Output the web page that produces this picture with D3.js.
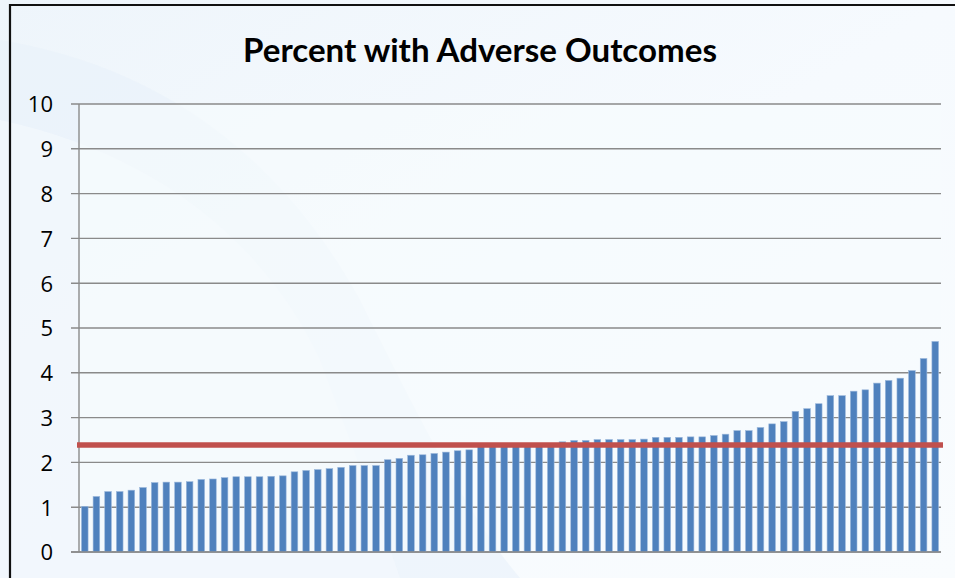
<!DOCTYPE html>
<html>
<head>
<meta charset="utf-8">
<script src="https://cdn.jsdelivr.net/npm/d3@7"></script>
<style>
  html, body { margin: 0; padding: 0; background: #f5f9fd; }
  svg { display: block; }
</style>
</head>
<body>
<svg id="chart" width="955" height="578"></svg>
<script>
// ---- data ----
const title = "Percent with Adverse Outcomes";
const values = [
  1.02,1.24,1.35,1.35,1.38,1.44,1.55,1.56,1.56,1.57,
  1.62,1.63,1.66,1.68,1.68,1.68,1.69,1.70,1.79,1.82,
  1.84,1.86,1.89,1.93,1.93,1.93,2.06,2.09,2.16,2.17,
  2.20,2.23,2.26,2.28,2.36,2.38,2.39,2.40,2.40,2.41,
  2.42,2.46,2.49,2.49,2.51,2.51,2.51,2.51,2.52,2.56,
  2.56,2.56,2.57,2.57,2.60,2.63,2.71,2.71,2.78,2.86,
  2.91,3.14,3.20,3.31,3.49,3.49,3.59,3.62,3.77,3.83,
  3.88,4.05,4.32,4.70
];
const categories = values.map((d, i) => i + 1);
const benchmark = [2.39];
const yTicks = [0,1,2,3,4,5,6,7,8,9,10];
const yDomain = [0, 10];

// ---- layout ----
const W = 955, H = 578;
const plot = { left: 79, right: 941, top: 104, bottom: 552 };
const svg = d3.select("#chart");

// background
const defs = svg.append("defs");
const bg = defs.append("linearGradient").attr("id","bg").attr("x1","0").attr("y1","0").attr("x2","1").attr("y2","1");
bg.append("stop").attr("offset","0").attr("stop-color","#eef5fb");
bg.append("stop").attr("offset","0.5").attr("stop-color","#f6fafe");
bg.append("stop").attr("offset","1").attr("stop-color","#f9fcfe");
svg.append("rect").attr("width", W).attr("height", H).attr("fill", "url(#bg)");
// subtle swooshes
svg.append("path")
  .attr("d", "M0,40 C120,60 260,120 360,300 C420,420 470,520 520,578 L0,578 Z")
  .attr("fill", "#e8f1f9").attr("opacity", 0.55);
svg.append("path")
  .attr("d", "M0,120 C140,150 260,230 320,360 C350,440 380,520 400,578 L0,578 Z")
  .attr("fill", "#f2f7fc").attr("opacity", 0.8);
svg.append("rect").attr("x", plot.left).attr("y", plot.top)
  .attr("width", plot.right - plot.left).attr("height", plot.bottom - plot.top)
  .attr("fill", "#f7fbfe").attr("opacity", 0.6);

// frame border
svg.append("path")
  .attr("d", `M10,${H + 5} L10,5 L${W + 5},5`)
  .attr("fill", "none").attr("stroke", "#111").attr("stroke-width", 2.2);

// ---- scales ----
const x = d3.scaleBand().domain(categories).range([plot.left, plot.right]).paddingInner(0.43).paddingOuter(0.21);
const y = d3.scaleLinear().domain(yDomain).range([plot.bottom, plot.top]);

// gridlines
svg.append("g").selectAll("line").data(yTicks).join("line")
  .attr("x1", plot.left - 8).attr("x2", plot.right)
  .attr("y1", d => y(d)).attr("y2", d => y(d))
  .attr("stroke", "#8a8a8a").attr("stroke-width", 1.4);

// y axis (labels + line)
const yAxis = d3.axisLeft(y).tickValues(yTicks).tickSize(0).tickPadding(0).tickFormat(d3.format("d"));
const gy = svg.append("g").attr("transform", `translate(${plot.left - 26},0)`).call(yAxis);
gy.attr("font-size", null).attr("font-family", null);
gy.select(".domain").remove();
gy.selectAll("text")
  .style("font-family", "'Open Sans', Lato, sans-serif")
  .style("font-size", "22px").attr("fill", "#000").attr("dy", "0.36em");
svg.append("line").attr("x1", plot.left).attr("x2", plot.left)
  .attr("y1", plot.top).attr("y2", plot.bottom)
  .attr("stroke", "#8a8a8a").attr("stroke-width", 1.4);

// bars
svg.append("g").selectAll("rect").data(values).join("rect")
  .attr("x", (d, i) => x(categories[i]))
  .attr("width", x.bandwidth())
  .attr("y", d => y(d))
  .attr("height", d => y(0) - y(d))
  .attr("fill", "#4f81bd")
  .attr("stroke", "#9db9dc").attr("stroke-width", 0.6);

// baseline
svg.append("line").attr("x1", plot.left - 8).attr("x2", plot.right)
  .attr("y1", y(0)).attr("y2", y(0))
  .attr("stroke", "#8a8a8a").attr("stroke-width", 1.6);

// benchmark line
svg.append("g").selectAll("line").data(benchmark).join("line")
  .attr("x1", plot.left - 2).attr("x2", plot.right + 2)
  .attr("y1", d => y(d)).attr("y2", d => y(d))
  .attr("stroke", "#c0504d").attr("stroke-width", 5.5);

// title
const t = svg.append("text")
  .attr("x", 480).attr("y", 62)
  .attr("text-anchor", "middle")
  .attr("font-family", "Lato, 'Open Sans', sans-serif")
  .attr("font-weight", "bold")
  .attr("font-size", 30)
  .attr("fill", "#000")
  .text(title);
const tw = t.node().getComputedTextLength();
t.attr("font-size", 30 * 474 / tw);
</script>
</body>
</html>
